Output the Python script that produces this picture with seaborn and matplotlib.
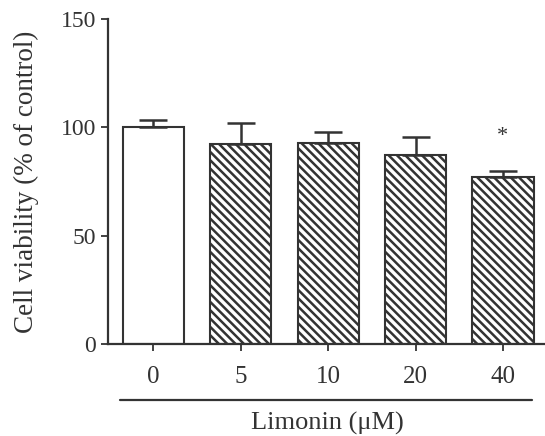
import numpy as np
import pandas as pd
import matplotlib
matplotlib.use('Agg')
import matplotlib.pyplot as plt
import seaborn as sns

# данные
doses = ['0', '5', '10', '20', '40']
viability = [100.0, 92.3, 92.8, 87.2, 77.2]
sd_upper = [3.4, 9.8, 5.2, 8.5, 2.8]
marks = ['', '', '', '', '*']

sns.set_style('ticks')
plt.rcParams['font.family'] = ['Liberation Serif', 'DejaVu Serif']
plt.rcParams['hatch.linewidth'] = 1.8
plt.rcParams['hatch.color'] = '#1e1e1e'

ink = '#333333'

df = pd.DataFrame({'dose': doses, 'viability': viability})

fig = plt.figure(figsize=(5.45, 4.36), dpi=100)
ax = fig.add_axes([0.198, 0.211, 0.805, 0.745])

sns.barplot(data=df, x='dose', y='viability', order=doses, color='white',
            width=0.7, errorbar=None, edgecolor=ink, linewidth=1.5, ax=ax)

for i, bar in enumerate(ax.patches):
    if i > 0:
        bar.set_hatch('\\\\\\\\')

# только верхняя половина погрешности
ax.errorbar(range(len(doses)), viability, yerr=[np.zeros(len(doses)), sd_upper],
            fmt='none', ecolor=ink, elinewidth=1.8, capsize=10, capthick=1.8, zorder=1)

for i, m in enumerate(marks):
    if m:
        ax.text(i, viability[i] + sd_upper[i] + 16, m, ha='center', va='center',
                fontsize=16, color=ink)

ax.set_ylim(0, 150)
ax.set_xlim(-0.52, 4.5)
ax.set_yticks([0, 50, 100, 150])
ax.set_ylabel('Cell viability (% of control)', fontsize=19.5, color=ink, labelpad=16)
ax.set_xlabel('Limonin (\u03bcM)', fontsize=19, color=ink, labelpad=17)
ax.tick_params(axis='both', colors=ink, width=1.3, length=5)
ax.tick_params(axis='y', labelsize=17)
ax.tick_params(axis='x', labelsize=18, pad=11)
sns.despine(ax=ax)
for s in ['left', 'bottom']:
    ax.spines[s].set_linewidth(1.6)
    ax.spines[s].set_color(ink)

# линия под подписями доз
ax.plot([-0.38, 4.33], [-0.172, -0.172], transform=ax.get_xaxis_transform(),
        color=ink, linewidth=1.6, clip_on=False)

fig.savefig('out.png', dpi=100)
